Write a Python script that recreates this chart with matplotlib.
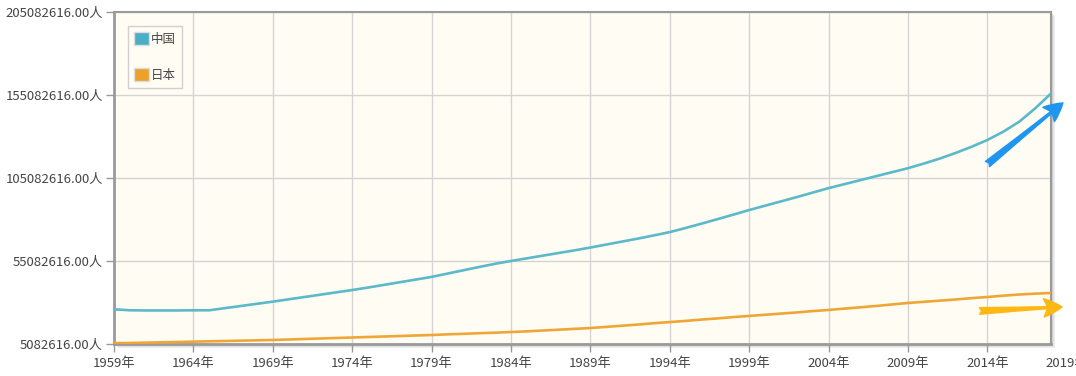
"""中国与日本人口折线图（年度）。"""

import matplotlib

matplotlib.use("Agg")

import matplotlib.pyplot as plt
import numpy as np
from matplotlib.patches import Patch, Rectangle
from matplotlib.ticker import FixedLocator, FuncFormatter

plt.rcParams["font.family"] = ["Noto Sans CJK SC", "DejaVu Sans"]

years = list(range(1959, 2019))

# 数值单位：百万人
china_m = [
    26.0, 25.4, 25.3, 25.3, 25.3, 25.4, 25.4, 26.7, 28.0, 29.3,
    30.6, 32.0, 33.4, 34.8, 36.2, 37.6, 39.1, 40.7, 42.3, 43.9,
    45.5, 47.5, 49.5, 51.5, 53.4, 55.1, 56.7, 58.3, 59.9, 61.5,
    63.2, 65.0, 66.8, 68.6, 70.5, 72.5, 75.0, 77.6, 80.3, 83.0,
    85.8, 88.4, 91.0, 93.6, 96.3, 99.0, 101.4, 103.8, 106.2, 108.6,
    111.0, 113.8, 116.8, 120.2, 123.9, 128.0, 133.0, 139.0, 147.0, 156.0,
]
japan_m = [
    5.6, 5.7, 5.9, 6.1, 6.3, 6.5, 6.7, 6.9, 7.1, 7.3,
    7.5, 7.8, 8.1, 8.4, 8.7, 9.0, 9.3, 9.6, 9.9, 10.2,
    10.5, 10.9, 11.2, 11.6, 11.9, 12.3, 12.7, 13.2, 13.7, 14.2,
    14.7, 15.4, 16.1, 16.8, 17.6, 18.3, 19.0, 19.8, 20.5, 21.3,
    22.0, 22.7, 23.4, 24.1, 24.9, 25.6, 26.4, 27.2, 28.0, 28.9,
    29.8, 30.5, 31.2, 31.9, 32.7, 33.4, 34.2, 34.9, 35.4, 35.8,
]

series_names = ["中国", "日本"]
line_colors = ["#5bb9c9", "#f0a636"]
legend_colors = ["#4aafc6", "#eba12a"]

y_ticks = [5082616, 55082616, 105082616, 155082616, 205082616]
x_ticks = [1959, 1964, 1969, 1974, 1979, 1984, 1989, 1994, 1999, 2004, 2009, 2014]
x_extra_tick = 2019  # 落在绘图区右侧之外的刻度标签

# 箭头注释：(起点年, 起点值, 终点年, 终点值, 颜色)
arrows = [
    (2014.0, 113.5e6, 2018.75, 150.3e6, "#1e96f0"),
    (2013.5, 25.0e6, 2018.7, 27.4e6, "#fdb813"),
]

fig = plt.figure(figsize=(10.76, 3.76), dpi=100)
left, bottom = 114 / 1076, 1 - 344 / 376
width, height = (1051 - 114) / 1076, (344 - 12) / 376

# 绘图区的阴影
for off, col in [(4, "#eeeeee"), (3, "#e2e2e2"), (2, "#d2d2d2")]:
    fig.patches.append(Rectangle((left + off / 1076, bottom - off / 376), width, height,
                                 transform=fig.transFigure, facecolor=col,
                                 edgecolor="none", zorder=-5))

ax = fig.add_axes([left, bottom, width, height])
ax.set_zorder(2)
ax.set_facecolor("#fffcf4")

x = np.array(years)
ax.plot(x, np.array(china_m) * 1e6, color=line_colors[0], linewidth=1.9, zorder=3)
ax.plot(x, np.array(japan_m) * 1e6, color=line_colors[1], linewidth=1.9, zorder=3)

ax.set_xlim(1959, 2018)
ax.set_ylim(y_ticks[0], y_ticks[-1])
ax.xaxis.set_major_locator(FixedLocator(x_ticks))
ax.yaxis.set_major_locator(FixedLocator(y_ticks))
ax.xaxis.set_major_formatter(FuncFormatter(lambda v, p: f"{int(round(v))}年"))
ax.yaxis.set_major_formatter(FuncFormatter(lambda v, p: f"{v:.2f}人"))
ax.tick_params(axis="both", colors="#999999", labelcolor="#444444", labelsize=9.5,
               length=6, width=1)
ax.tick_params(axis="x", pad=3)
ax.tick_params(axis="y", pad=2)
ax.grid(True, color="#d4d4d4", linewidth=1)
ax.set_axisbelow(True)

ax.annotate(f"{x_extra_tick}年", xy=(x_extra_tick, 0), xycoords=("data", "axes fraction"),
            xytext=(0, -9), textcoords="offset points", ha="center", va="top",
            fontsize=9.5, color="#444444", annotation_clip=False)

for side, spine in ax.spines.items():
    spine.set_color("#9a9a9a")
    spine.set_linewidth(1.5)
ax.spines["left"].set_linewidth(2)
ax.spines["bottom"].set_linewidth(2)

for x0, y0, x1, y1, c in arrows:
    ax.annotate(
        "",
        xy=(x1, y1),
        xytext=(x0, y0),
        arrowprops=dict(
            arrowstyle="fancy,head_length=0.55,head_width=0.55,tail_width=0.2",
            color=c,
            mutation_scale=24,
            shrinkA=0,
            shrinkB=0,
        ),
        annotation_clip=False,
        zorder=5,
    )

handles = [Patch(facecolor=legend_colors[i], edgecolor="#dddddd") for i in range(2)]
leg = ax.legend(
    handles,
    series_names,
    loc="upper left",
    bbox_to_anchor=(0.015, 0.958),
    fancybox=False,
    framealpha=1,
    facecolor="#fffcf4",
    edgecolor="#d0d0d0",
    fontsize=9,
    handlelength=1.2,
    handleheight=1.2,
    handletextpad=0.1,
    labelspacing=1.8,
    borderpad=0.5,
    borderaxespad=0,
)
for t in leg.get_texts():
    t.set_color("#444444")

fig.savefig("out.png", dpi=100)
